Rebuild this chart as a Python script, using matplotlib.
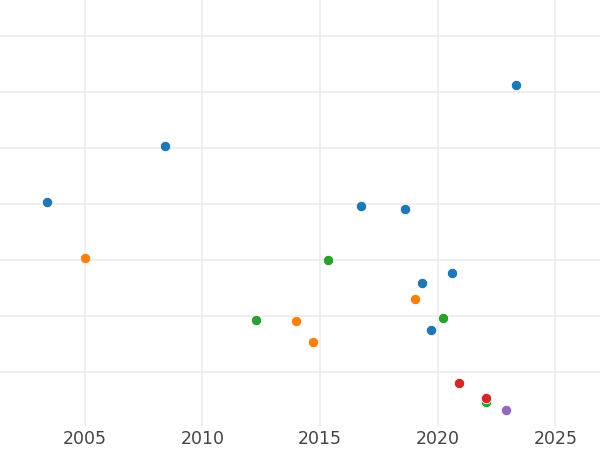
import matplotlib
matplotlib.use("Agg")
import matplotlib.pyplot as plt

# point data per group (year, value)
blue_x = [2003.39, 2008.40, 2023.35, 2016.75, 2018.61, 2019.32, 2020.59, 2019.72]
blue_y = [4.04, 5.04, 6.12, 3.96, 3.91, 2.59, 2.77, 1.75]
orange_x = [2005.02, 2013.98, 2014.69, 2019.02]
orange_y = [3.03, 1.92, 1.54, 2.31]
green_x = [2012.29, 2015.34, 2020.21, 2022.06]
green_y = [1.93, 3.00, 1.97, 0.46]
red_x = [2020.91, 2022.06]
red_y = [0.81, 0.54]
purple_x = [2022.91]
purple_y = [0.32]

xticks = [2005, 2010, 2015, 2020, 2025]
yticks = [1, 2, 3, 4, 5, 6, 7]

fig = plt.figure(figsize=(6, 4.5), dpi=100)
ax = fig.add_axes([0, 24 / 450, 1, 426 / 450])

groups = [
    (blue_x, blue_y, '#1f77b4'),
    (orange_x, orange_y, '#ff7f0e'),
    (green_x, green_y, '#2ca02c'),
    (red_x, red_y, '#d62728'),
    (purple_x, purple_y, '#9467bd'),
]
for xs, ys, c in groups:
    ax.scatter(xs, ys, s=56, color=c, edgecolor='white', linewidth=0.6, zorder=3)

ax.set_xlim(2001.4, 2026.9)
ax.set_ylim(0.04, 7.64)
ax.set_xticks(xticks)
ax.set_yticks(yticks)
ax.set_yticklabels([])
ax.grid(True, color='#ebebeb', linewidth=1.1, zorder=0)
ax.set_axisbelow(True)
for s in ax.spines.values():
    s.set_visible(False)
ax.tick_params(axis='both', length=0)
ax.tick_params(axis='x', labelsize=12.5, labelcolor='#444444', pad=3)

fig.savefig('out.png', dpi=100)
